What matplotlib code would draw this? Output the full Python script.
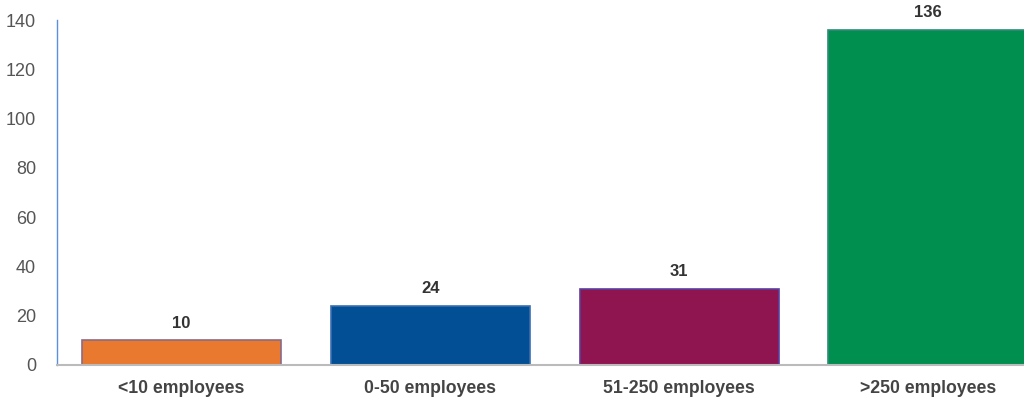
import matplotlib.pyplot as plt

# Respondents by company size
categories = ["<10 employees", "0-50 employees", "51-250 employees", ">250 employees"]
counts = [10, 24, 31, 136]
colors = ["#E8792F", "#034F96", "#8E1550", "#008F4E"]
edges = ["#8A6A8A", "#3A6FB0", "#5A3FA0", "#2F8A7A"]
yticks = [0, 20, 40, 60, 80, 100, 120, 140]

plt.rcParams["font.family"] = ["Liberation Sans", "DejaVu Sans"]

fig = plt.figure(figsize=(10.24, 4.01), dpi=100)
ax = fig.add_axes([0.0557, 0.0898, 0.972, 0.860])

x = range(len(categories))
ax.bar(x, counts, width=0.8, color=colors, edgecolor=edges, linewidth=1.2, zorder=2)

for xi, v in zip(x, counts):
    ax.text(xi, v + 4, str(v), ha="center", va="bottom",
            fontsize=12, fontweight="bold", color="#333333")

ax.set_xlim(-0.5, 3.5)
ax.set_ylim(0, 140)
ax.set_yticks(yticks)
ax.set_xticks(list(x))
ax.set_xticklabels(categories, fontsize=12.7, fontweight="bold", color="#444444")
ax.tick_params(axis="y", length=0, pad=15, labelsize=13, labelcolor="#555555")
ax.tick_params(axis="x", length=0, pad=11)

for side in ["top", "right"]:
    ax.spines[side].set_visible(False)
ax.spines["left"].set_color("#5B8FE0")
ax.spines["left"].set_linewidth(1.0)
ax.spines["bottom"].set_color("#BBBBBB")
ax.spines["bottom"].set_linewidth(1.5)

fig.savefig("out.png", dpi=100)
